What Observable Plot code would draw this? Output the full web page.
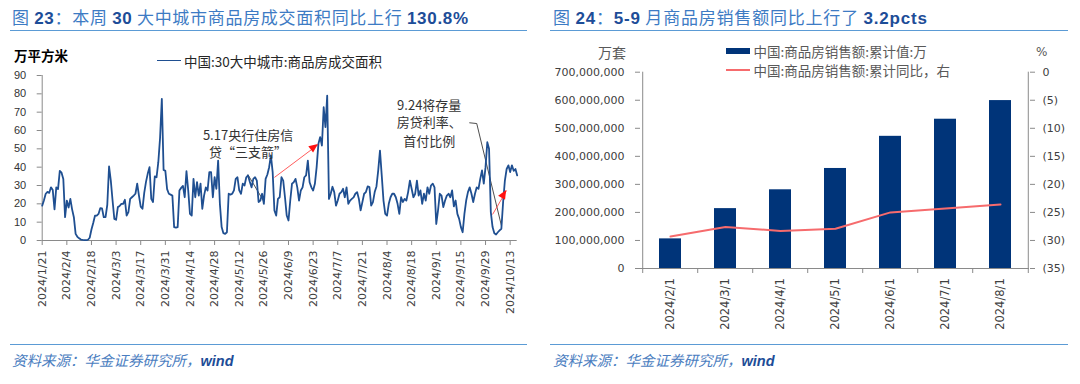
<!DOCTYPE html>
<html>
<head>
<meta charset="utf-8">
<script src="https://cdn.jsdelivr.net/npm/d3@7"></script>
<script src="https://cdn.jsdelivr.net/npm/@observablehq/plot@0.6"></script>
<style>
  html, body { margin: 0; padding: 0; background: #fff; }
  body { width: 1080px; height: 384px; position: relative; overflow: hidden; font-family: "Noto Sans CJK SC", "Noto Sans", sans-serif; }
  .abs { position: absolute; white-space: nowrap; }
  .chart { position: absolute; top: 0; width: 540px; height: 330px; }
  .chart svg { background: transparent !important; overflow: visible; }
  .title { font-family: "Noto Sans CJK SC"; font-size: 17px; line-height: 22px; color: #3d7bc4; }
  .title b { font-family: "Liberation Sans", Arial, sans-serif; font-weight: bold; color: #1d4d98; }
  .rule { height: 0; border-top: 1.5px solid #5b9bd5; }
  .src { font-family: "Noto Sans CJK SC"; font-style: italic; font-size: 14.5px; line-height: 20px; color: #4a7dc0; }
  .src b { font-family: "Liberation Sans", Arial, sans-serif; font-weight: bold; color: #1d4d98; }
  .lab { font-size: 13.5px; line-height: 20px; }
</style>
</head>
<body>
<div id="leftChart" class="chart" style="left:0px"></div>
<div id="rightChart" class="chart" style="left:540px"></div>

<div class="abs title" style="left:12px;top:6px;letter-spacing:0.7px">图 <b>23</b>：本周 <b>30</b> 大中城市商品房成交面积同比上行 <b>130.8%</b></div>
<div class="abs rule" style="left:10px;top:30px;width:517px"></div>
<div class="abs title" style="left:553px;top:6px;letter-spacing:0.8px">图 <b>24</b>：<b>5-9</b> 月商品房销售额同比上行了 <b>3.2pcts</b></div>
<div class="abs rule" style="left:550px;top:30px;width:518px"></div>

<div class="abs lab" style="left:14px;top:45px;font-weight:bold;color:#000">万平方米</div>
<div class="abs" style="left:157px;top:60px;width:24px;height:0;border-top:1.8px solid #1f4f91"></div>
<div class="abs lab" style="left:184px;top:51px;color:#262626">中国:30大中城市:商品房成交面积</div>

<div class="abs lab" style="left:598px;top:42px;color:#595959;font-size:14px">万套</div>
<div class="abs" style="left:726px;top:47.5px;width:23.5px;height:6px;background:#003479"></div>
<div class="abs lab" style="left:753.5px;top:40.5px;color:#595959">中国:商品房销售额:累计值:万</div>
<div class="abs" style="left:726px;top:69px;width:23.5px;height:2px;background:#f66b6d"></div>
<div class="abs lab" style="left:753.5px;top:60px;color:#595959">中国:商品房销售额:累计同比，右</div>
<div class="abs lab" style="left:1036px;top:42px;color:#595959;font-family:'DejaVu Sans';font-size:12px">%</div>

<div class="abs rule" style="left:10px;top:344px;width:517px"></div>
<div class="abs src" style="left:12px;top:350px">资料来源：华金证券研究所，<b>wind</b></div>
<div class="abs rule" style="left:550px;top:344px;width:518px"></div>
<div class="abs src" style="left:553px;top:350px">资料来源：华金证券研究所，<b>wind</b></div>

<script>
// ---------------- Left chart data: 30大中城市商品房成交面积 (万平方米), daily from 2024-01-21 ----------------
const areaStart = "2024-01-21";
const areaEnd = "2024-10-17";
const areaValues = [
  19, 22, 25.5, 26.5, 26, 29, 27.5, 17, 29, 28,
  38, 37, 33.6, 12.7, 21.8, 18, 22.7, 17, 12.7, 3.6,
  2, 1.2, 0.5, 0.3, 0.2, 0.2, 0.4, 1.5, 6, 9.5,
  13.5, 13.6, 14.5, 17.6, 17.5, 12.7, 12.7, 19.5, 40.4, 32.7,
  21.8, 11.8, 11.3, 18.2, 18.8, 20, 20, 22.2, 13.6, 15.5,
  22.7, 23.6, 24.5, 25.5, 31, 24.5, 18.5, 17.3, 26, 32,
  36.5, 40, 22.7, 21, 35, 34.5, 42.7, 56, 77.3, 38.5,
  38, 28, 25.5, 25, 24.5, 7.3, 7, 7.3, 27.3, 28.7,
  29.8, 23.6, 37.8, 27.3, 14.5, 13.6, 33.6, 23.6, 31.8, 24.5,
  31, 17.3, 24.5, 29, 27.3, 37.3, 37.3, 23.6, 34.5, 28.2,
  43.6, 20, 7.3, 4, 3.6, 4.5, 25.5, 25, 25.5, 27.3,
  33.6, 34.5, 27.3, 25.5, 31, 30, 34.5, 35.5, 32, 29,
  33.6, 34.5, 32.7, 21, 21.8, 25.5, 20, 33.6, 36, 40,
  46.4, 37.3, 16.4, 13.6, 22.7, 23.6, 34.5, 32.7, 23.6, 13.6,
  10.9, 21.8, 31, 31.8, 33.6, 29, 21.8, 27.3, 29, 34.5,
  35.5, 43.6, 31.8, 29, 27.3, 30.9, 40, 52.7, 56.4, 51.8,
  72.7, 61.8, 79, 22.7, 25.5, 29.3, 26.4, 19, 21.8, 25.5,
  26.4, 28.2, 23.6, 29, 20, 21.8, 22.7, 23.5, 25.5, 26.4,
  22.7, 16.4, 20.9, 25.5, 26.4, 29.5, 29.1, 19, 20.9, 26.4,
  29.5, 38.2, 49, 35.5, 21.8, 14.5, 13.6, 20, 23.6, 25.5,
  25.5, 23.6, 20, 14.5, 23.6, 21, 22.7, 21.8, 26.4, 32.7,
  28.2, 23.6, 25.5, 32.7, 24.5, 27.3, 20, 25.5, 21.8, 29,
  25.5, 30, 31, 29, 9, 16.4, 25.5, 24.5, 18.2, 21.8,
  24.5, 25.5, 23.6, 27.3, 18.6, 21.8, 14.5, 11.8, 7.3, 4.5,
  14.5, 21.8, 26.4, 29, 25.5, 21, 25.5, 29, 28.2, 33.6,
  38.2, 31, 40, 53.6, 50, 15.5, 7.3, 4, 3.3, 4.5,
  5.5, 6.4, 21, 32.7, 39, 41, 37.3, 41, 38, 39, 35.5
];
const areaXTicks = ["2024/1/21","2024/2/4","2024/2/18","2024/3/3","2024/3/17","2024/3/31","2024/4/14","2024/4/28",
  "2024/5/12","2024/5/26","2024/6/9","2024/6/23","2024/7/7","2024/7/21","2024/8/4","2024/8/18","2024/9/1",
  "2024/9/15","2024/9/29","2024/10/13"];
const areaYTicks = [0, 10, 20, 30, 40, 50, 60, 70, 80, 90];

// annotations (date, value positions)
const noteTextLines = ["5.17央行住房信", "贷“三支箭”", "9.24将存量", "房贷利率、", "首付比例"];
const noteTextDates = ["2024-05-17", "2024-05-17", "2024-08-28", "2024-08-28", "2024-08-28"];
const noteTextValues = [57.3, 47.8, 73.5, 64.1, 53.8];
const leaderDates = [["2024-05-17", "2024-05-26"], ["2024-09-20", "2024-09-24", "2024-10-08"]];
const leaderValues = [[35.8, 21.3], [64.2, 63.8, 8.2]];
const redArrowStartDates = ["2024-06-01", "2024-10-03"];
const redArrowStartValues = [34.4, 14.2];
const redArrowEndDates = ["2024-06-26", "2024-10-11"];
const redArrowEndValues = [52.4, 27.3];

// ---------------- Right chart data ----------------
const salesMonths = ["2024/2/1","2024/3/1","2024/4/1","2024/5/1","2024/6/1","2024/7/1","2024/8/1"];
const salesCum = [105660000, 213550000, 280670000, 356700000, 471330000, 532340000, 598800000];
const salesYoY = [-29.3, -27.6, -28.3, -27.9, -25.0, -24.3, -23.6];
const salesTicks = [0, 100000000, 200000000, 300000000, 400000000, 500000000, 600000000, 700000000];
const yoyTicks = [0, -5, -10, -15, -20, -25, -30, -35];

// ---------------- Left chart ----------------
const parseTick = d3.utcParse("%Y/%m/%d");
const fmtTick = d3.utcFormat("%Y/%-m/%-d");
const d0 = new Date(areaStart);
const areaData = areaValues.map((v, i) => ({date: d3.utcDay.offset(d0, i), value: v}));
const notes = noteTextLines.map((t, i) => ({text: t, date: new Date(noteTextDates[i]), value: noteTextValues[i]}));
const leaders = leaderDates.flatMap((arr, k) => arr.map((d, j) => ({g: k, date: new Date(d), value: leaderValues[k][j]})));
const redArrows = redArrowStartDates.map((d, i) => ({
  x1: new Date(d), y1: redArrowStartValues[i], x2: new Date(redArrowEndDates[i]), y2: redArrowEndValues[i]
}));
const axisGray = "#8a8a8a";

const left = Plot.plot({
  width: 540, height: 330,
  marginLeft: 41.7, marginRight: 23.3, marginTop: 75, marginBottom: 90,
  x: {type: "utc", domain: [d0, new Date(areaEnd)]},
  y: {domain: [d3.min(areaYTicks), d3.max(areaYTicks)]},
  style: {background: "transparent", fontFamily: "DejaVu Sans", fontSize: "11px", color: "#404040", overflow: "visible"},
  marks: [
    Plot.axisY({ticks: areaYTicks, tickSize: 5, tickPadding: 11, stroke: axisGray, fill: "#333",
      fontFamily: "Liberation Sans", fontSize: 11, label: null}),
    Plot.axisX({ticks: areaXTicks.map(parseTick), tickFormat: fmtTick, tickRotate: -90, tickSize: 5, tickPadding: 5,
      stroke: axisGray, fill: "#404040", fontFamily: "DejaVu Sans", fontSize: 11, label: null}),
    Plot.ruleY([0], {stroke: axisGray}),
    Plot.ruleX([d0], {y1: d3.min(areaYTicks), y2: d3.max(areaYTicks), stroke: axisGray}),
    Plot.line(leaders, {x: "date", y: "value", z: "g", stroke: "#3a3a3a", strokeWidth: 0.9}),
    Plot.link(redArrows, {x1: "x1", y1: "y1", x2: "x2", y2: "y2", stroke: "#ff4040", strokeWidth: 1, strokeOpacity: 0.85}),
    Plot.line(areaData, {x: "date", y: "value", stroke: "#1f4f91", strokeWidth: 1.8}),
    Plot.text(notes, {x: "date", y: "value", text: "text", fill: "#333", fontFamily: "Noto Sans CJK SC", fontSize: 13})
  ]
});
// filled arrowheads, placed through the plot's scales
{
  const sx = left.scale("x"), sy = left.scale("y");
  const g = d3.select(left).append("g");
  for (const a of redArrows) {
    const X1 = sx.apply(a.x1), Y1 = sy.apply(a.y1), X2 = sx.apply(a.x2), Y2 = sy.apply(a.y2);
    const ang = Math.atan2(Y2 - Y1, X2 - X1), L = 9, W = 4;
    const bx = X2 - L * Math.cos(ang), by = Y2 - L * Math.sin(ang);
    const px = -Math.sin(ang) * W, py = Math.cos(ang) * W;
    g.append("path").attr("d", `M${X2},${Y2}L${bx + px},${by + py}L${bx - px},${by - py}Z`).attr("fill", "#ff1010");
  }
}
document.getElementById("leftChart").appendChild(left);

// ---------------- Right chart ----------------
const rW = 540, rH = 330, rML = 100, rMR = 51, rMT = 71.7, rMB = 62;
const step = (rW - rML - rMR) / salesMonths.length;
const salesTop = d3.max(salesTicks);
const yoyMin = d3.min(yoyTicks), yoyMax = d3.max(yoyTicks);
const yoyToY = v => (v - yoyMin) / (yoyMax - yoyMin) * salesTop;
const yToYoy = y => y / salesTop * (yoyMax - yoyMin) + yoyMin;
const yoyLabel = y => { const t = Math.round(yToYoy(y)); return t === 0 ? "0" : (t < 0 ? `(${-t})` : `${t}`); };
const salesData = salesMonths.map((m, i) => ({month: m, value: salesCum[i], yoy: salesYoY[i]}));
const lastMonth = salesMonths[salesMonths.length - 1];

const right = Plot.plot({
  width: rW, height: rH, marginLeft: rML, marginRight: rMR, marginTop: rMT, marginBottom: rMB,
  x: {type: "band", domain: salesMonths, paddingInner: 0.6, paddingOuter: 0.3},
  y: {domain: [0, salesTop]},
  style: {background: "transparent", fontFamily: "DejaVu Sans", fontSize: "11px", color: "#404040", overflow: "visible"},
  marks: [
    Plot.barY(salesData, {x: "month", y: "value", fill: "#003479"}),
    Plot.ruleY([0], {stroke: axisGray}),
    Plot.ruleX([salesMonths[0]], {x: d => d, dx: -step / 2, y1: 0, y2: salesTop, stroke: axisGray}),
    Plot.ruleX([lastMonth], {x: d => d, dx: step / 2, y1: 0, y2: salesTop, stroke: axisGray}),
    Plot.ruleX(salesMonths, {x: d => d, dx: -step / 2, y1: 0, y2: 0, insetBottom: -5, stroke: axisGray}),
    Plot.ruleX([lastMonth], {x: d => d, dx: step / 2, y1: 0, y2: 0, insetBottom: -5, stroke: axisGray}),
    Plot.line(salesData, {x: "month", y: d => yoyToY(d.yoy), stroke: "#f66b6d", strokeWidth: 2}),
    Plot.axisX({tickSize: 0, tickPadding: 9.7, tickRotate: -90, fill: "#404040", fontFamily: "DejaVu Sans", fontSize: 11.5, label: null}),
    Plot.axisY({ticks: salesTicks, tickFormat: d3.format(","), tickSize: 5, tickPadding: 11, stroke: axisGray,
      fill: "#404040", fontFamily: "DejaVu Sans", fontSize: 11, label: null}),
    Plot.axisY({anchor: "right", ticks: yoyTicks.map(yoyToY), tickFormat: yoyLabel, tickSize: 5, tickPadding: 8,
      stroke: axisGray, fill: "#404040", fontFamily: "DejaVu Sans", fontSize: 11, label: null})
  ]
});
document.getElementById("rightChart").appendChild(right);
</script>
</body>
</html>
